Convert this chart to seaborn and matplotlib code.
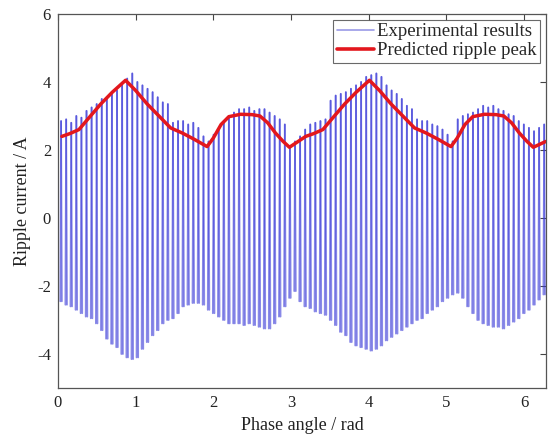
import numpy as np
import pandas as pd
import matplotlib
matplotlib.use("Agg")
import matplotlib.pyplot as plt
from matplotlib.lines import Line2D
import seaborn as sns

# ---- data ----
phase_pred = [0.05, 0.15, 0.27, 0.40, 0.55, 0.70, 0.87, 1.00, 1.15, 1.30, 1.45, 1.60, 1.75, 1.92,
              2.00, 2.10, 2.20, 2.35, 2.50, 2.60, 2.70, 2.80, 2.90, 2.98,
              3.19, 3.29, 3.41, 3.54, 3.69, 3.84, 4.01, 4.14, 4.29, 4.44, 4.59, 4.74, 4.89, 5.06,
              5.14, 5.24, 5.34, 5.49, 5.64, 5.74, 5.84, 5.94, 6.04, 6.12, 6.28]
peak_pred = [2.40, 2.48, 2.60, 2.95, 3.35, 3.70, 4.05, 3.75, 3.35, 3.00, 2.65, 2.50, 2.32, 2.10,
             2.35, 2.75, 2.98, 3.05, 3.04, 3.00, 2.80, 2.50, 2.25, 2.08,
             2.40, 2.48, 2.60, 2.95, 3.35, 3.70, 4.05, 3.75, 3.35, 3.00, 2.65, 2.50, 2.32, 2.10,
             2.35, 2.75, 2.98, 3.05, 3.04, 3.00, 2.80, 2.50, 2.25, 2.08, 2.25]

spike_upper = [2.85, 2.90, 2.80, 3.00, 2.95, 3.15, 3.25, 3.35, 3.50, 3.55, 3.70, 3.75, 3.95, 4.10,
               4.25, 4.00, 3.90, 3.80, 3.70, 3.55, 3.40, 3.35, 2.80, 2.85, 2.85, 2.75, 2.80, 2.65,
               2.40, 2.25, 2.45, 2.60, 2.85, 3.00, 3.10, 3.20, 3.20, 3.25, 3.15, 3.20, 3.20, 3.10,
               3.00, 2.90, 2.75, 2.05, 2.25, 2.40, 2.60, 2.75, 2.80, 2.85, 2.90, 3.45, 3.60, 3.65,
               3.70, 3.80, 3.90, 4.00, 4.15, 4.20, 4.25, 4.15, 3.90, 3.75, 3.65, 3.50, 3.30, 3.20,
               2.90, 2.85, 2.85, 2.75, 2.70, 2.60, 2.45, 2.25, 2.90, 3.00, 3.05, 3.10, 3.20, 3.30,
               3.25, 3.30, 3.20, 3.15, 3.05, 3.00, 2.85, 2.75, 2.65, 2.55, 2.65, 2.75]
spike_lower = [-2.45, -2.55, -2.60, -2.70, -2.80, -2.90, -2.95, -3.10, -3.30, -3.55, -3.70, -3.80,
               -4.00, -4.10, -4.15, -4.10, -3.85, -3.65, -3.45, -3.30, -3.10, -3.00, -2.95, -2.80,
               -2.60, -2.55, -2.50, -2.50, -2.55, -2.70, -2.80, -2.90, -3.00, -3.10, -3.10, -3.10,
               -3.15, -3.10, -3.15, -3.20, -3.25, -3.25, -3.10, -2.90, -2.60, -2.35, -2.15, -2.45,
               -2.60, -2.65, -2.75, -2.80, -2.85, -3.00, -3.15, -3.35, -3.45, -3.65, -3.75, -3.80,
               -3.85, -3.90, -3.85, -3.75, -3.60, -3.50, -3.40, -3.30, -3.20, -3.10, -3.00, -2.95,
               -2.80, -2.70, -2.60, -2.45, -2.35, -2.25, -2.20, -2.35, -2.60, -2.80, -3.00, -3.10,
               -3.15, -3.20, -3.20, -3.25, -3.15, -3.05, -2.95, -2.80, -2.70, -2.55, -2.40, -2.25]

x_ticks = [0, 1, 2, 3, 4, 5, 6]
y_ticks = [-4, -2, 0, 2, 4, 6]

# spike positions along the phase axis (sample instants)
spike_phase = np.linspace(0.03, 6.25, len(spike_upper))

rows = []
for i, (xp, lo, hi) in enumerate(zip(spike_phase, spike_lower, spike_upper)):
    # rising edge and falling edge of each ripple spike
    rows.append((2 * i, xp, lo))
    rows.append((2 * i, xp + 0.010, hi))
    rows.append((2 * i + 1, xp + 0.010, hi))
    rows.append((2 * i + 1, xp + 0.020, lo))
exp_df = pd.DataFrame(rows, columns=["stroke", "phase", "current"])
pred_df = pd.DataFrame({"phase": phase_pred, "current": peak_pred})

sns.set_style("white")
plt.rcParams["font.family"] = ["Liberation Serif", "DejaVu Serif"]
plt.rcParams["axes.unicode_minus"] = False

fig = plt.figure(figsize=(5.49, 4.37), dpi=100)
ax = fig.add_axes([0.1056, 0.1121, 0.8889, 0.8559])

exp_color = "#3a3ad8"
pred_color = "#e3171d"
sns.lineplot(data=exp_df, x="phase", y="current", units="stroke", estimator=None,
             sort=False, color=exp_color, lw=1.3, alpha=0.6, ax=ax, legend=False)
sns.lineplot(data=pred_df, x="phase", y="current", color=pred_color, lw=2.5, ax=ax,
             legend=False)

ax.set_xlim(0, 2 * np.pi)
ax.set_ylim(-5, 6)
ax.set_xticks(x_ticks)
ax.set_yticks(y_ticks)
ax.tick_params(direction="in", length=4, width=0.8, color="#444444", labelsize=12,
               top=True, right=True, labelcolor="#222222", pad=5)
for s in ax.spines.values():
    s.set_color("#555555")
    s.set_linewidth(0.9)
ax.set_xlabel("Phase angle / rad", fontsize=13, color="#222222", labelpad=4)
ax.set_ylabel("Ripple current / A", fontsize=13, color="#222222", labelpad=4)

handles = [Line2D([], [], color="#9a9ae6", lw=1.2),
           Line2D([], [], color=pred_color, lw=2.6)]
leg = ax.legend(handles, ["Experimental results", "Predicted ripple peak"],
                loc="upper right", fontsize=13.5, frameon=True, fancybox=False,
                edgecolor="#444444", borderpad=0.2, handlelength=2.0, handletextpad=0.15,
                labelspacing=0.1, borderaxespad=0.3)
leg.get_frame().set_linewidth(0.8)

fig.savefig("out.png", dpi=100)
